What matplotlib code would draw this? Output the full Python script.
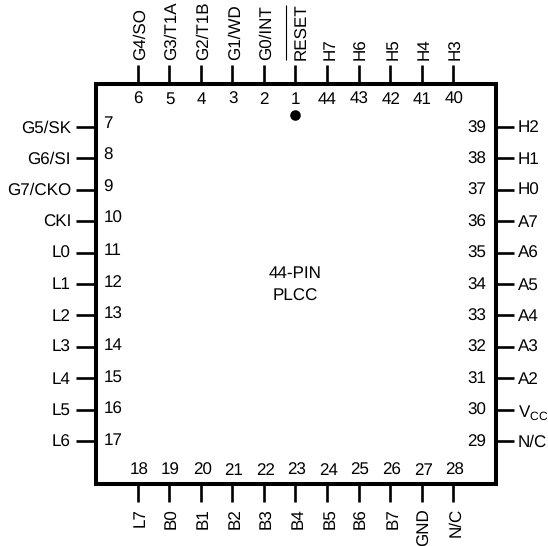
import matplotlib
matplotlib.use("Agg")
import matplotlib.pyplot as plt
from matplotlib.patches import Rectangle

plt.rcParams['font.family'] = ['Liberation Sans', 'DejaVu Sans']
plt.rcParams['text.hinting'] = 'no_hinting'
plt.rcParams['text.hinting_factor'] = 1

top_pins = [6, 5, 4, 3, 2, 1, 44, 43, 42, 41, 40]
top_labels = ["G4/SO", "G3/T1A", "G2/T1B", "G1/WD", "G0/INT", "RESET", "H7", "H6", "H5", "H4", "H3"]
left_pins = [7, 8, 9, 10, 11, 12, 13, 14, 15, 16, 17]
left_labels = ["G5/SK", "G6/SI", "G7/CKO", "CKI", "L0", "L1", "L2", "L3", "L4", "L5", "L6"]
right_pins = [39, 38, 37, 36, 35, 34, 33, 32, 31, 30, 29]
right_labels = ["H2", "H1", "H0", "A7", "A6", "A5", "A4", "A3", "A2", r"V$_{\mathregular{CC}}$", "N/C"]
bottom_pins = [18, 19, 20, 21, 22, 23, 24, 25, 26, 27, 28]
bottom_labels = ["L7", "B0", "B1", "B2", "B3", "B4", "B5", "B6", "B7", "GND", "N/C"]
center_text = "44-PIN\nPLCC"

FS = 12.4
BOX_L, BOX_R, BOX_T, BOX_B = 95.5, 495.5, 84, 484
FIRST, STEP = 137.5, 31.58
FIRST_Y = 127

fig = plt.figure(figsize=(5.48, 5.46), dpi=100)
ax = fig.add_axes([0, 0, 1, 1])
ax.set_xlim(0, 548)
ax.set_ylim(546, 0)
ax.axis("off")

ax.add_patch(Rectangle((BOX_L, BOX_T), BOX_R - BOX_L, BOX_B - BOX_T, fill=False,
                       ec="black", lw=2.9, joinstyle="miter"))
pin_lw = 1.9

for i, (n, lab) in enumerate(zip(top_pins, top_labels)):
    x = FIRST + i * STEP
    ax.plot([x, x], [65, BOX_T], color="black", lw=pin_lw, solid_capstyle="butt")
    ax.text(x + 0.5, 99.5, str(n), ha="center", va="center", fontsize=FS)
    ax.text(x + (6.4 if lab == "RESET" else 2.9), 60, lab, rotation=90,
            ha="center", va="bottom", fontsize=FS)

for i, (n, lab) in enumerate(zip(bottom_pins, bottom_labels)):
    x = FIRST + i * STEP
    ax.plot([x, x], [BOX_B, 502], color="black", lw=pin_lw, solid_capstyle="butt")
    ax.text(x + 1.5, 470.5, str(n), ha="center", va="center", fontsize=FS)
    ax.text(x + 2.9, 508, lab, rotation=90, ha="center", va="top", fontsize=FS)

for i, (n, lab) in enumerate(zip(left_pins, left_labels)):
    y = FIRST_Y + i * (441 - FIRST_Y) / 10
    ax.plot([76, BOX_L], [y, y], color="black", lw=pin_lw, solid_capstyle="butt")
    ax.text(103.5, y - 3.5 + 0.35 * i, str(n), ha="left", va="center", fontsize=FS)
    ax.text(71, y + 1, lab, ha="right", va="center", fontsize=FS)

for i, (n, lab) in enumerate(zip(right_pins, right_labels)):
    y = FIRST_Y + i * (441 - FIRST_Y) / 10
    ax.plot([BOX_R, 514], [y, y], color="black", lw=pin_lw, solid_capstyle="butt")
    ax.text(486.5, y + 1, str(n), ha="right", va="center", fontsize=FS)
    ax.text(518, y + (3 if "V" in lab else 1), lab, ha="left", va="center", fontsize=FS)

reset_x = FIRST + top_labels.index("RESET") * STEP
ax.plot([reset_x - 9, reset_x - 9], [5, 60], color="black", lw=0.8, solid_capstyle="butt")
ax.plot([reset_x], [115], "o", color="black", ms=7.6, mec="none")
ax.text(295.5, 285, center_text, ha="center", va="center", fontsize=FS, linespacing=1.5)

fig.savefig("out.png", dpi=100)
